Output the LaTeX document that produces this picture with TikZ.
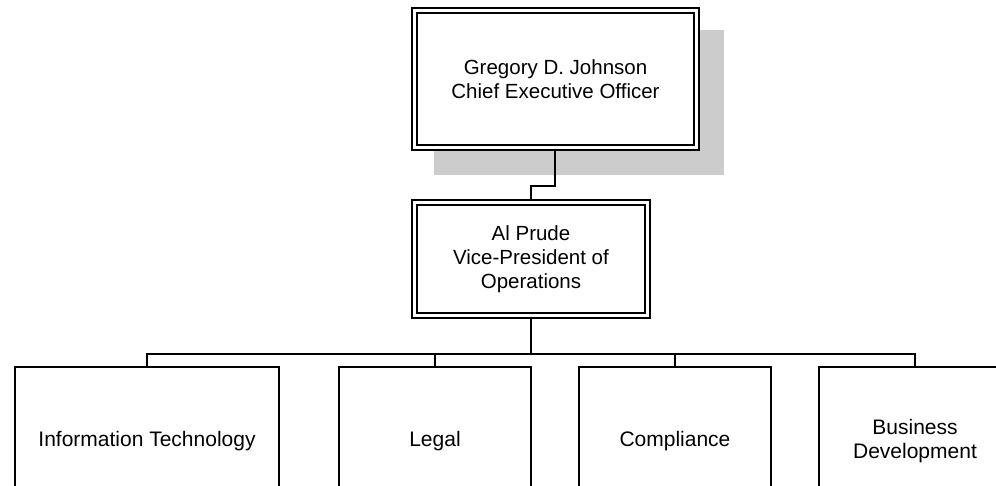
\documentclass[tikz,border=0pt]{standalone}
\usepackage{fontspec}
\setmainfont{Liberation Sans}
\definecolor{shadowgray}{RGB}{204,204,204}
\begin{document}
\begin{tikzpicture}[x=1pt,y=-1pt,
  box/.style={draw, fill=white, line width=2pt, inner sep=0pt, outer sep=0pt, align=center,
    font=\fontsize{20.5}{24}\selectfont},
  unit/.style={box, minimum height=144pt, text depth=0pt, font=\fontsize{21}{24.5}\selectfont},
  inner/.style={line width=1.3pt},
  link/.style={line width=2pt}]
\useasboundingbox (0,0) rectangle (996,486);
\clip (0,0) rectangle (996,486);
% shadow
\fill[shadowgray] (434,30) rectangle (724,175);
% top boxes
\node[box, minimum width=287pt, minimum height=142pt] (ceo) at (555.5,79)
  {Gregory D. Johnson\\Chief Executive Officer};
\draw[inner] ([xshift=5pt,yshift=-5pt]ceo.north west) rectangle ([xshift=-5pt,yshift=5pt]ceo.south east);
\node[box, minimum width=238pt, minimum height=118pt] (vp) at (531,259)
  {Al Prude\\Vice-President of\\Operations};
\draw[inner] ([xshift=5pt,yshift=-5pt]vp.north west) rectangle ([xshift=-5pt,yshift=5pt]vp.south east);
% bottom boxes
\node[unit, minimum width=264pt] (it) at (147,439) {Information Technology};
\node[unit, minimum width=192pt] (legal) at (435,439) {Legal};
\node[unit, minimum width=192pt] (comp) at (675,439) {Compliance};
\node[unit, minimum width=192pt] (bd) at (915,439) {Business\\Development};
% connectors
\coordinate (elbow) at (555,186);
\draw[link] (ceo.south -| elbow) -- (elbow) -| (vp.north);
\coordinate (bus) at (531,354);
\draw[link] (vp.south) -- (bus);
\draw[link] (it.north) |- (bus) -| (bd.north);
\draw[link] (legal.north) -- (legal.north |- bus);
\draw[link] (comp.north) -- (comp.north |- bus);
\end{tikzpicture}
\end{document}
